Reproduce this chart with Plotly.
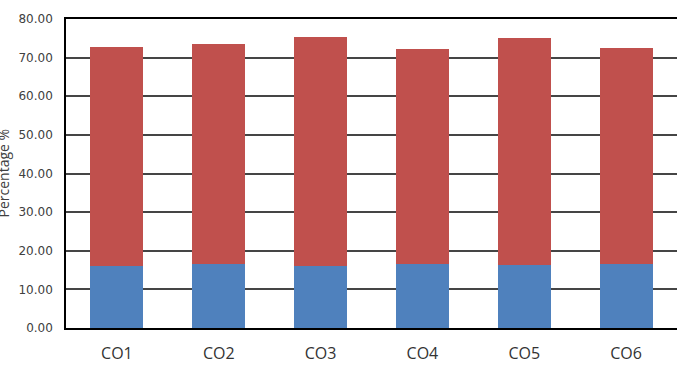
import plotly.graph_objects as go

categories = ["CO1", "CO2", "CO3", "CO4", "CO5", "CO6"]
blue_vals = [16.1, 16.5, 16.1, 16.5, 16.2, 16.5]
red_vals = [56.6, 57.0, 59.3, 55.8, 58.9, 56.0]
y_ticks = [0, 10, 20, 30, 40, 50, 60, 70, 80]

fig = go.Figure()
fig.add_trace(go.Bar(x=categories, y=blue_vals, marker=dict(color="#4F81BD", line=dict(width=0))))
fig.add_trace(go.Bar(x=categories, y=red_vals, marker=dict(color="#C0504D", line=dict(width=0))))

fig.update_layout(
    barmode="stack",
    bargap=0.48,
    width=686, height=368,
    margin=dict(l=66, r=9, t=19, b=40),
    paper_bgcolor="white", plot_bgcolor="white",
    showlegend=False,
    font=dict(family="DejaVu Sans, sans-serif", color="#404040"),
    xaxis=dict(
        showline=True, linecolor="black", linewidth=1.5, mirror=True,
        ticks="", ticklabelstandoff=10, automargin=False,
        tickfont=dict(family="Open Sans", size=16, color="#333333"),
        showgrid=False,
    ),
    yaxis=dict(
        range=[0, 80], tickvals=y_ticks, tickformat=".2f",
        showline=True, linecolor="black", linewidth=1.5,
        showgrid=True, gridcolor="#454545", gridwidth=1.5,
        ticks="", ticklabelstandoff=9, automargin=False,
        tickfont=dict(family="DejaVu Sans", size=12, color="#404040"),
        zeroline=False,
    ),
    annotations=[dict(
        text="Percentage %", textangle=-90, xref="paper", yref="paper",
        x=-63/611, y=0.5, xanchor="center", yanchor="middle", showarrow=False,
        font=dict(family="Open Sans", size=14, color="#404040"),
    )],
)

fig.write_html("out.html")
